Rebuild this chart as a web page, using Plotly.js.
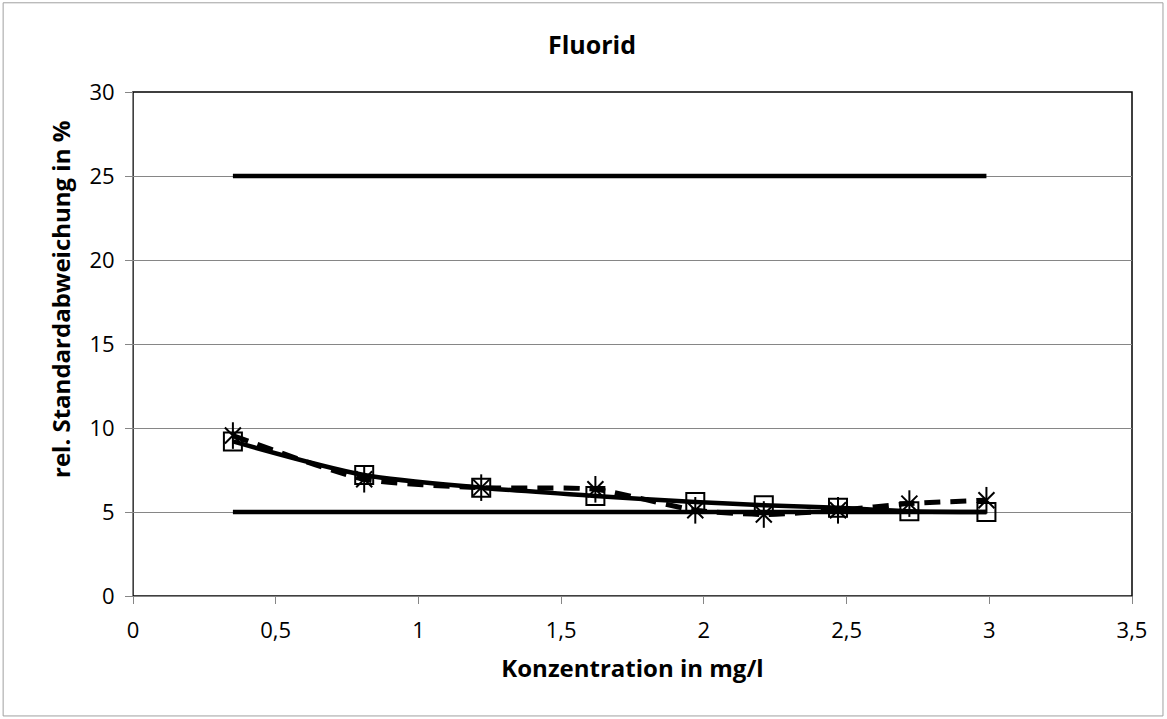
<!DOCTYPE html>
<html>
<head>
<meta charset="utf-8">
<script src="https://cdn.plot.ly/plotly-3.0.1.min.js"></script>
<style>html,body{margin:0;padding:0;background:#fff;}#chart{width:1167px;height:719px;}</style>
</head>
<body>
<div id="chart"></div>
<script>
// Data
const konzentration = [0.35, 0.81, 1.22, 1.62, 1.97, 2.21, 2.47, 2.72, 2.99];
const serieQuadrat = [9.2, 7.2, 6.45, 5.95, 5.6, 5.4, 5.25, 5.05, 5.0];
const serieStern   = [9.55, 6.95, 6.45, 6.35, 5.1, 4.85, 5.1, 5.5, 5.7];
const grenzeX = [0.35, 2.99];
const grenzeOben = [25, 25];
const grenzeUnten = [5, 5];
const xTicks = [0, 0.5, 1, 1.5, 2, 2.5, 3, 3.5];
const yTicks = [0, 5, 10, 15, 20, 25, 30];

const FONT = '"Open Sans", Lato, sans-serif';

const traces = [
  {x: grenzeX, y: grenzeOben, mode: 'lines', line: {color: '#000', width: 4.5}, hoverinfo: 'skip'},
  {x: grenzeX, y: grenzeUnten, mode: 'lines', line: {color: '#000', width: 4.5}, hoverinfo: 'skip'},
  {x: konzentration, y: serieStern, mode: 'lines', line: {color: '#000', width: 5, dash: '16px,10px', shape: 'spline', smoothing: 0.6}},
  {x: konzentration, y: serieQuadrat, mode: 'lines', line: {color: '#000', width: 4.5, shape: 'spline', smoothing: 0.8}},
  {x: konzentration, y: serieQuadrat, mode: 'markers', marker: {symbol: 'square-open', size: 18, color: '#000', line: {width: 2, color: '#000'}}},
  {x: konzentration, y: serieStern, mode: 'markers', marker: {symbol: 'x-thin-open', size: 16, color: '#000', line: {width: 2, color: '#000'}}},
  {x: konzentration, y: serieStern, mode: 'markers', marker: {symbol: 'line-ns-open', size: 19, color: '#000', line: {width: 2, color: '#000'}}}
];

const layout = {
  width: 1167, height: 719,
  margin: {l: 133, r: 35, t: 92, b: 123},
  paper_bgcolor: '#fff', plot_bgcolor: '#fff',
  showlegend: false,
  separators: ',.',
  font: {family: FONT, color: '#000', size: 22},
  title: {text: '<b>Fluorid</b>', font: {family: FONT, size: 25, color: '#000'}, x: 592/1167, xref: 'container', xanchor: 'center', y: 1 - 45/719, yref: 'container', yanchor: 'middle'},
  xaxis: {
    range: [0, 3.5], tickvals: xTicks, ticktext: xTicks.map(v => String(v).replace('.', ',')),
    showgrid: false, zeroline: false, showline: true, linecolor: '#868686', linewidth: 1,
    ticks: 'outside', ticklen: 7, tickcolor: '#868686', tickfont: {size: 22, family: FONT},
    ticklabelstandoff: 8,
    title: {text: '<b>Konzentration in mg/l</b>', font: {size: 24, family: FONT}, standoff: 16}
  },
  yaxis: {
    range: [0, 30], tickvals: yTicks,
    showgrid: true, gridcolor: '#868686', gridwidth: 1, zeroline: false,
    showline: true, linecolor: '#868686', linewidth: 1,
    ticks: 'outside', ticklen: 7, tickcolor: '#868686', tickfont: {size: 22, family: FONT},
    ticklabelstandoff: 6
  },
  annotations: [
    {text: '<b>rel. Standardabweichung in %</b>', textangle: -90, font: {size: 24, family: FONT, color: '#000'},
     xref: 'paper', yref: 'paper', x: (60 - 133) / 999, y: (596 - 300) / 504, xanchor: 'center', yanchor: 'middle', showarrow: false}
  ],
  shapes: [
    {type: 'rect', xref: 'paper', yref: 'paper', x0: 0, x1: 1, y0: 0, y1: 1, line: {color: '#000', width: 1.5}, layer: 'below'},
    {type: 'rect', xref: 'paper', yref: 'paper', x0: -0.130, x1: 1.031, y0: -0.238, y1: 1.177, line: {color: '#a0a0a0', width: 1}, layer: 'below'}
  ]
};

Plotly.newPlot('chart', traces, layout, {displayModeBar: false, staticPlot: true});
</script>
</body>
</html>
